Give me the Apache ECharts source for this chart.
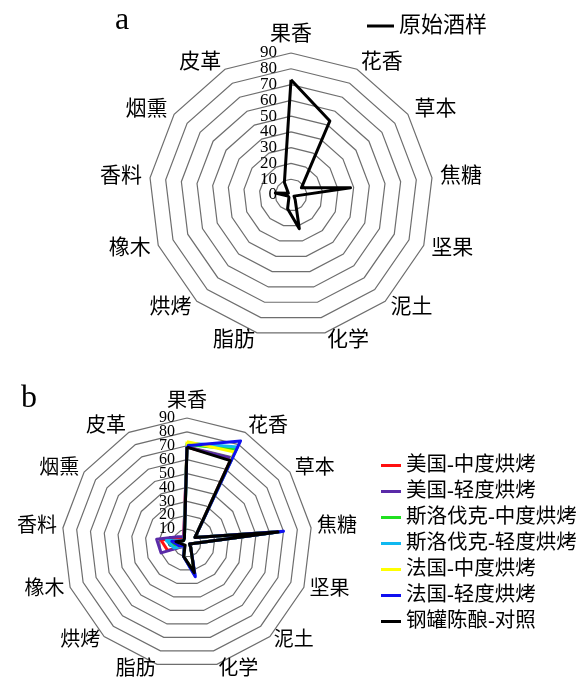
<!DOCTYPE html>
<html>
<head>
<meta charset="utf-8">
<script src="https://cdn.jsdelivr.net/npm/echarts@6/dist/echarts.min.js"></script>
<style>
  html, body { margin: 0; padding: 0; background: #fff; }
  #chart { width: 587px; height: 693px; }
</style>
</head>
<body>
<div id="chart"></div>
<script>
// Aroma attributes, listed clockwise starting from the top axis
const attributes = ['果香', '花香', '草本', '焦糖', '坚果', '泥土', '化学', '脂肪', '烘烤', '橡木', '香料', '烟熏', '皮革'];
const scaleMax = 90;
const scaleStep = 10;

// Panel a: base wine
const baseWineName = '原始酒样';
const baseWine = [73, 53, 8, 38, 2, 4, 22, 9, 2, 2, 10, 2, 9];

// Panel b: barrel treatments and steel-tank control
const treatmentNames = ['美国-中度烘烤', '美国-轻度烘烤', '斯洛伐克-中度烘烤', '斯洛伐克-轻度烘烤', '法国-中度烘烤', '法国-轻度烘烤', '钢罐陈酿-对照'];
const treatmentColors = ['#ff1010', '#5a2aa8', '#20e020', '#10b8f0', '#ffff00', '#1010f0', '#000000'];
const usMedium    = [69, 68, 7, 68, 2, 4, 23, 10, 3, 15, 19, 5, 5];
const usLight     = [69, 69, 7, 68, 2, 4, 23, 10, 3, 20, 22, 8, 5];
const skMedium    = [71, 76, 7, 68, 2, 4, 23, 10, 3, 8, 12, 3, 4];
const skLight     = [72, 78, 7, 69, 2, 4, 24, 10, 3, 10, 15, 3, 4];
const frMedium    = [73, 74, 7, 68, 2, 4, 23, 10, 3, 6, 10, 3, 4];
const frLight     = [70, 83, 7, 70, 2, 4, 25, 10, 3, 6, 11, 3, 4];
const steelTank   = [69, 67, 7, 66, 2, 4, 22, 10, 2, 3, 8, 3, 4];
const treatmentValues = [usMedium, usLight, skMedium, skLight, frMedium, frLight, steelTank];

const SERIF = "'Liberation Serif', 'Noto Sans CJK SC', serif";

// ECharts lays radar indicators out counter-clockwise, so keep the first
// axis on top and reverse the rest to run them clockwise.
function clockwise(arr) {
  return [arr[0]].concat(arr.slice(1).reverse());
}

function labelStyle(size, margin) {
  return { show: true, color: '#000', fontSize: size, fontFamily: SERIF, margin: margin };
}

// Main grid: rings every 10, inner tick labels 10..80 on the top axis
function radarConf(center, radius, nameSize, labelSize, margin, gap) {
  return {
    center: center,
    radius: radius,
    startAngle: 90,
    shape: 'polygon',
    splitNumber: scaleMax / scaleStep,
    indicator: clockwise(attributes).map(function (name, i) {
      const ind = { name: name, min: 0, max: scaleMax };
      if (i === 0) {
        ind.axisLabel = Object.assign(labelStyle(labelSize, margin), { showMinLabel: false, showMaxLabel: false });
      }
      return ind;
    }),
    axisName: { color: '#000', fontSize: nameSize, fontFamily: SERIF },
    nameGap: gap,
    axisLine: { show: false },
    axisTick: { show: false },
    splitArea: { show: false },
    splitLine: { lineStyle: { color: '#6e6e6e', width: 1.2 } }
  };
}

// Companion axis (twice the radius, two steps of 90) carrying the 0 and 90 labels
function endLabelRadar(center, radius, labelSize, margin) {
  return {
    center: center,
    radius: radius * 2,
    startAngle: 90,
    shape: 'polygon',
    splitNumber: 2,
    indicator: clockwise(attributes).map(function (name, i) {
      const ind = { name: '', min: 0, max: scaleMax * 2 };
      if (i === 0) {
        ind.axisLabel = Object.assign(labelStyle(labelSize, margin), { showMinLabel: true, showMaxLabel: false });
      }
      return ind;
    }),
    axisName: { show: false },
    axisLine: { show: false },
    axisTick: { show: false },
    splitArea: { show: false },
    splitLine: { show: false }
  };
}

const series = [{
  type: 'radar',
  radarIndex: 0,
  name: baseWineName,
  symbol: 'none',
  color: '#000',
  lineStyle: { color: '#000', width: 3 },
  data: [{ name: baseWineName, value: clockwise(baseWine) }],
  z: 3
}];

treatmentNames.forEach(function (name, i) {
  series.push({
    type: 'radar',
    radarIndex: 1,
    name: name,
    symbol: 'none',
    color: treatmentColors[i],
    lineStyle: { color: treatmentColors[i], width: 3 },
    data: [{ name: name, value: clockwise(treatmentValues[i]) }],
    z: 3 + i
  });
});

const chart = echarts.init(document.getElementById('chart'), null, { renderer: 'canvas' });
chart.setOption({
  backgroundColor: '#fff',
  animation: false,
  title: [
    { text: 'a', left: 110, top: 0, textStyle: { fontSize: 32, fontWeight: 'normal', color: '#000', fontFamily: SERIF } },
    { text: 'b', left: 16, top: 378, textStyle: { fontSize: 32, fontWeight: 'normal', color: '#000', fontFamily: SERIF } }
  ],
  legend: [
    {
      data: [baseWineName],
      left: 362, top: 10,
      icon: 'rect', itemWidth: 27, itemHeight: 3,
      itemGap: 8,
      textStyle: { fontSize: 22, color: '#000', fontFamily: SERIF }
    },
    {
      data: treatmentNames,
      orient: 'vertical',
      left: 376, top: 450,
      icon: 'rect', itemWidth: 20, itemHeight: 3,
      itemGap: 5,
      textStyle: { fontSize: 20.5, lineHeight: 21, color: '#000', fontFamily: SERIF }
    }
  ],
  radar: [
    radarConf([291, 195], 142, 21, 17, 14, 8),
    radarConf([187, 543], 125, 20, 16, 12, 6),
    endLabelRadar([291, 195], 142, 17, 14),
    endLabelRadar([187, 543], 125, 16, 12)
  ],
  series: series
});
</script>
</body>
</html>
